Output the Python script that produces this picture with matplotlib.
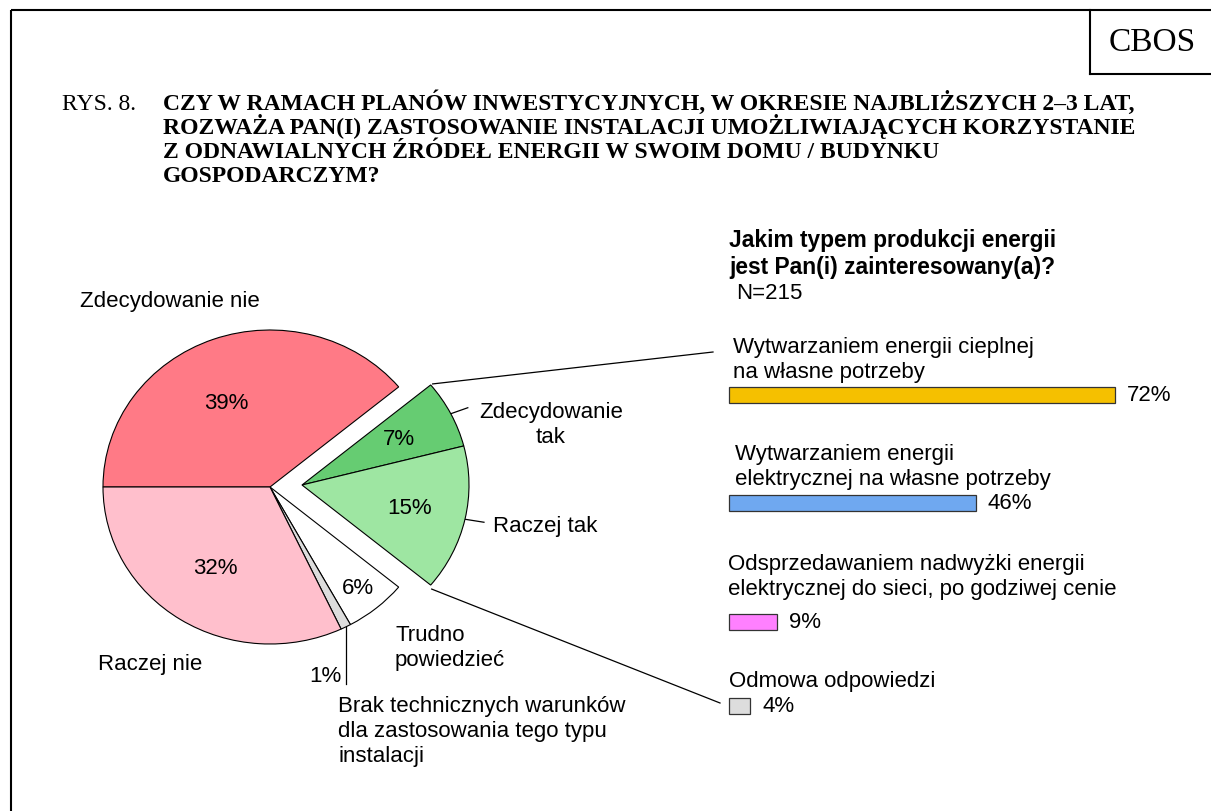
import matplotlib
matplotlib.use("Agg")
import matplotlib.pyplot as plt
import numpy as np

# ---------------- data ----------------
pie_labels = ["Zdecydowanie nie", "Zdecydowanie\ntak", "Raczej tak", "Trudno\npowiedzieć",
              "Brak technicznych warunków\ndla zastosowania tego typu\ninstalacji", "Raczej nie"]
pie_values = [39, 7, 15, 6, 1, 32]
pie_colors = ["#FF7A86", "#66CC72", "#9EE6A2", "#FFFFFF", "#DDDDDD", "#FFBFCC"]

bar_title = "Jakim typem produkcji energii\njest Pan(i) zainteresowany(a)?"
bar_n = "N=215"
bar_labels = ["Wytwarzaniem energii cieplnej\nna własne potrzeby",
              "Wytwarzaniem energii\nelektrycznej na własne potrzeby",
              "Odsprzedawaniem nadwyżki energii\nelektrycznej do sieci, po godziwej cenie",
              "Odmowa odpowiedzi"]
bar_values = [72, 46, 9, 4]
bar_colors = ["#F5C000", "#6FA8F0", "#FF80FF", "#DDDDDD"]

fig_label = "RYS. 8."
title_lines = ["CZY W RAMACH PLANÓW INWESTYCYJNYCH, W OKRESIE NAJBLIŻSZYCH 2–3 LAT,",
               "ROZWAŻA PAN(I) ZASTOSOWANIE INSTALACJI UMOŻLIWIAJĄCYCH KORZYSTANIE",
               "Z ODNAWIALNYCH ŹRÓDEŁ ENERGII W SWOIM DOMU / BUDYNKU",
               "GOSPODARCZYM?"]
source = "CBOS"

# ---------------- layout ----------------
W, H, DPI = 1211, 812, 100
SANS = ["Liberation Sans", "DejaVu Sans"]
SERIF = ["Liberation Serif", "DejaVu Serif"]
FS = 16
LS = 1.25

fig = plt.figure(figsize=(W / DPI, H / DPI), dpi=DPI)
fig.patch.set_facecolor("white")

# pixel overlay axes
ov = fig.add_axes([0, 0, 1, 1])
ov.set_xlim(0, W)
ov.set_ylim(H, 0)
ov.axis("off")

lw_frame = 1.5
ov.plot([11, W], [11, 11], color="black", lw=lw_frame, solid_capstyle="butt")
ov.plot([11, 11], [11, H], color="black", lw=lw_frame, solid_capstyle="butt")
ov.plot([1090, 1090], [11, 75], color="black", lw=lw_frame)
ov.plot([1090, W], [75, 75], color="black", lw=lw_frame)
ov.text(1152, 43, source, family=SERIF, fontsize=24, ha="center", va="center")

base0, step = 110, 24
ov.text(62, base0, fig_label, family=SERIF, fontsize=17, ha="left", va="baseline")
for i, line in enumerate(title_lines):
    ov.text(163, base0 + i * step, line, family=SERIF, fontsize=17, fontweight="bold",
            ha="left", va="baseline")

# ---------------- pie ----------------
cx, cy, A, B = 270, 488, 167, 157
L = 1.3
pie_ax = fig.add_axes([(cx - L * A) / W, (H - cy - L * B) / H, 2 * L * A / W, 2 * L * B / H])
wedges, _ = pie_ax.pie(pie_values, colors=pie_colors, startangle=180, counterclock=False,
                       wedgeprops=dict(edgecolor="black", linewidth=0.8))
pie_ax.set_aspect("auto")
pie_ax.set_xlim(-L, L)
pie_ax.set_ylim(-L, L)
pie_ax.axis("off")

shift = (32 / A, 2 / B)
for i in (1, 2):
    wedges[i].set_center(shift)


def to_px(x, y):
    d = pie_ax.transData.transform((x, y))
    return d[0], H - d[1]


def arc_pt(w, ang, r=1.0):
    c = w.center
    t = np.deg2rad(ang)
    return c[0] + r * np.cos(t), c[1] + r * np.sin(t)


pct_r = [0.60, 0.65, 0.66, 0.83, None, 0.61]
pct_da = [6, 0, 0, 0, 0, 0]
for w, v, r, da in zip(wedges, pie_values, pct_r, pct_da):
    if r is None:
        continue
    mid = 0.5 * (w.theta1 + w.theta2) + da
    x, y = arc_pt(w, mid, r)
    pie_ax.text(x, y, f"{v}%", family=SANS, fontsize=FS, ha="center", va="center")

# connector lines from exploded part to bar panel
p_top = to_px(*arc_pt(wedges[1], wedges[1].theta2))
p_bot = to_px(*arc_pt(wedges[2], wedges[2].theta1))
ov.plot([p_top[0] + 2, 713], [p_top[1] - 1, 353], color="black", lw=0.9)
ov.plot([p_bot[0] + 1, 720], [p_bot[1] + 4, 704], color="black", lw=0.9)

# leader for Zdecydowanie tak
p = to_px(*arc_pt(wedges[1], 0.5 * (wedges[1].theta1 + wedges[1].theta2)))
ov.plot([p[0], p[0] + 17], [p[1], p[1] - 6], color="black", lw=0.9)
ov.text(551, 425, pie_labels[1], family=SANS, fontsize=FS, ha="center", va="center", linespacing=LS)

# leader for Raczej tak
p = to_px(*arc_pt(wedges[2], 0.5 * (wedges[2].theta1 + wedges[2].theta2)))
ov.plot([p[0], p[0] + 19], [p[1], p[1] + 3], color="black", lw=0.9)
ov.text(493, 527, pie_labels[2], family=SANS, fontsize=FS, ha="left", va="center")

# other category labels
ov.text(80, 302, pie_labels[0], family=SANS, fontsize=FS, ha="left", va="center")
ov.text(98, 665, pie_labels[5], family=SANS, fontsize=FS, ha="left", va="center")
ov.text(395, 648, pie_labels[3], family=SANS, fontsize=FS, ha="left", va="center", linespacing=LS)

# 1% leader
p = to_px(*arc_pt(wedges[4], 0.5 * (wedges[4].theta1 + wedges[4].theta2)))
ov.plot([p[0], p[0]], [p[1], 685], color="black", lw=0.9)
ov.text(p[0] - 4, 677, f"{pie_values[4]}%", family=SANS, fontsize=FS, ha="right", va="center")
ov.text(338, 732, pie_labels[4], family=SANS, fontsize=FS, ha="left", va="center", linespacing=LS)

# ---------------- bars ----------------
x0, scale = 729, 5.36
bar_ax = fig.add_axes([0, 0, 1, 1])
bar_ax.set_xlim(-x0 / scale, (W - x0) / scale)
bar_ax.set_ylim(H, 0)
bar_ax.axis("off")
bar_ax.patch.set_alpha(0)

bar_y = [396, 504, 623, 707]
bar_label_y = [360, 467, 577, 682]
bar_label_x = [733, 735, 728, 729]
bar_ax.barh(bar_y, bar_values, height=16, left=0, color=bar_colors,
            edgecolor="#333333", linewidth=0.9)
for y, v, ly, lx, lab in zip(bar_y, bar_values, bar_label_y, bar_label_x, bar_labels):
    bar_ax.text(v + 12 / scale, y, f"{v}%", family=SANS, fontsize=FS, ha="left", va="center")
    ov.text(lx, ly, lab, family=SANS, fontsize=FS, ha="left", va="center", linespacing=LS)

ov.text(729, 254, bar_title, family=SANS, fontsize=16.4, fontweight="bold",
        ha="left", va="center", linespacing=LS)
ov.text(736, 294, bar_n, family=SANS, fontsize=FS, ha="left", va="center")

fig.savefig("out.png", dpi=DPI, facecolor="white")
